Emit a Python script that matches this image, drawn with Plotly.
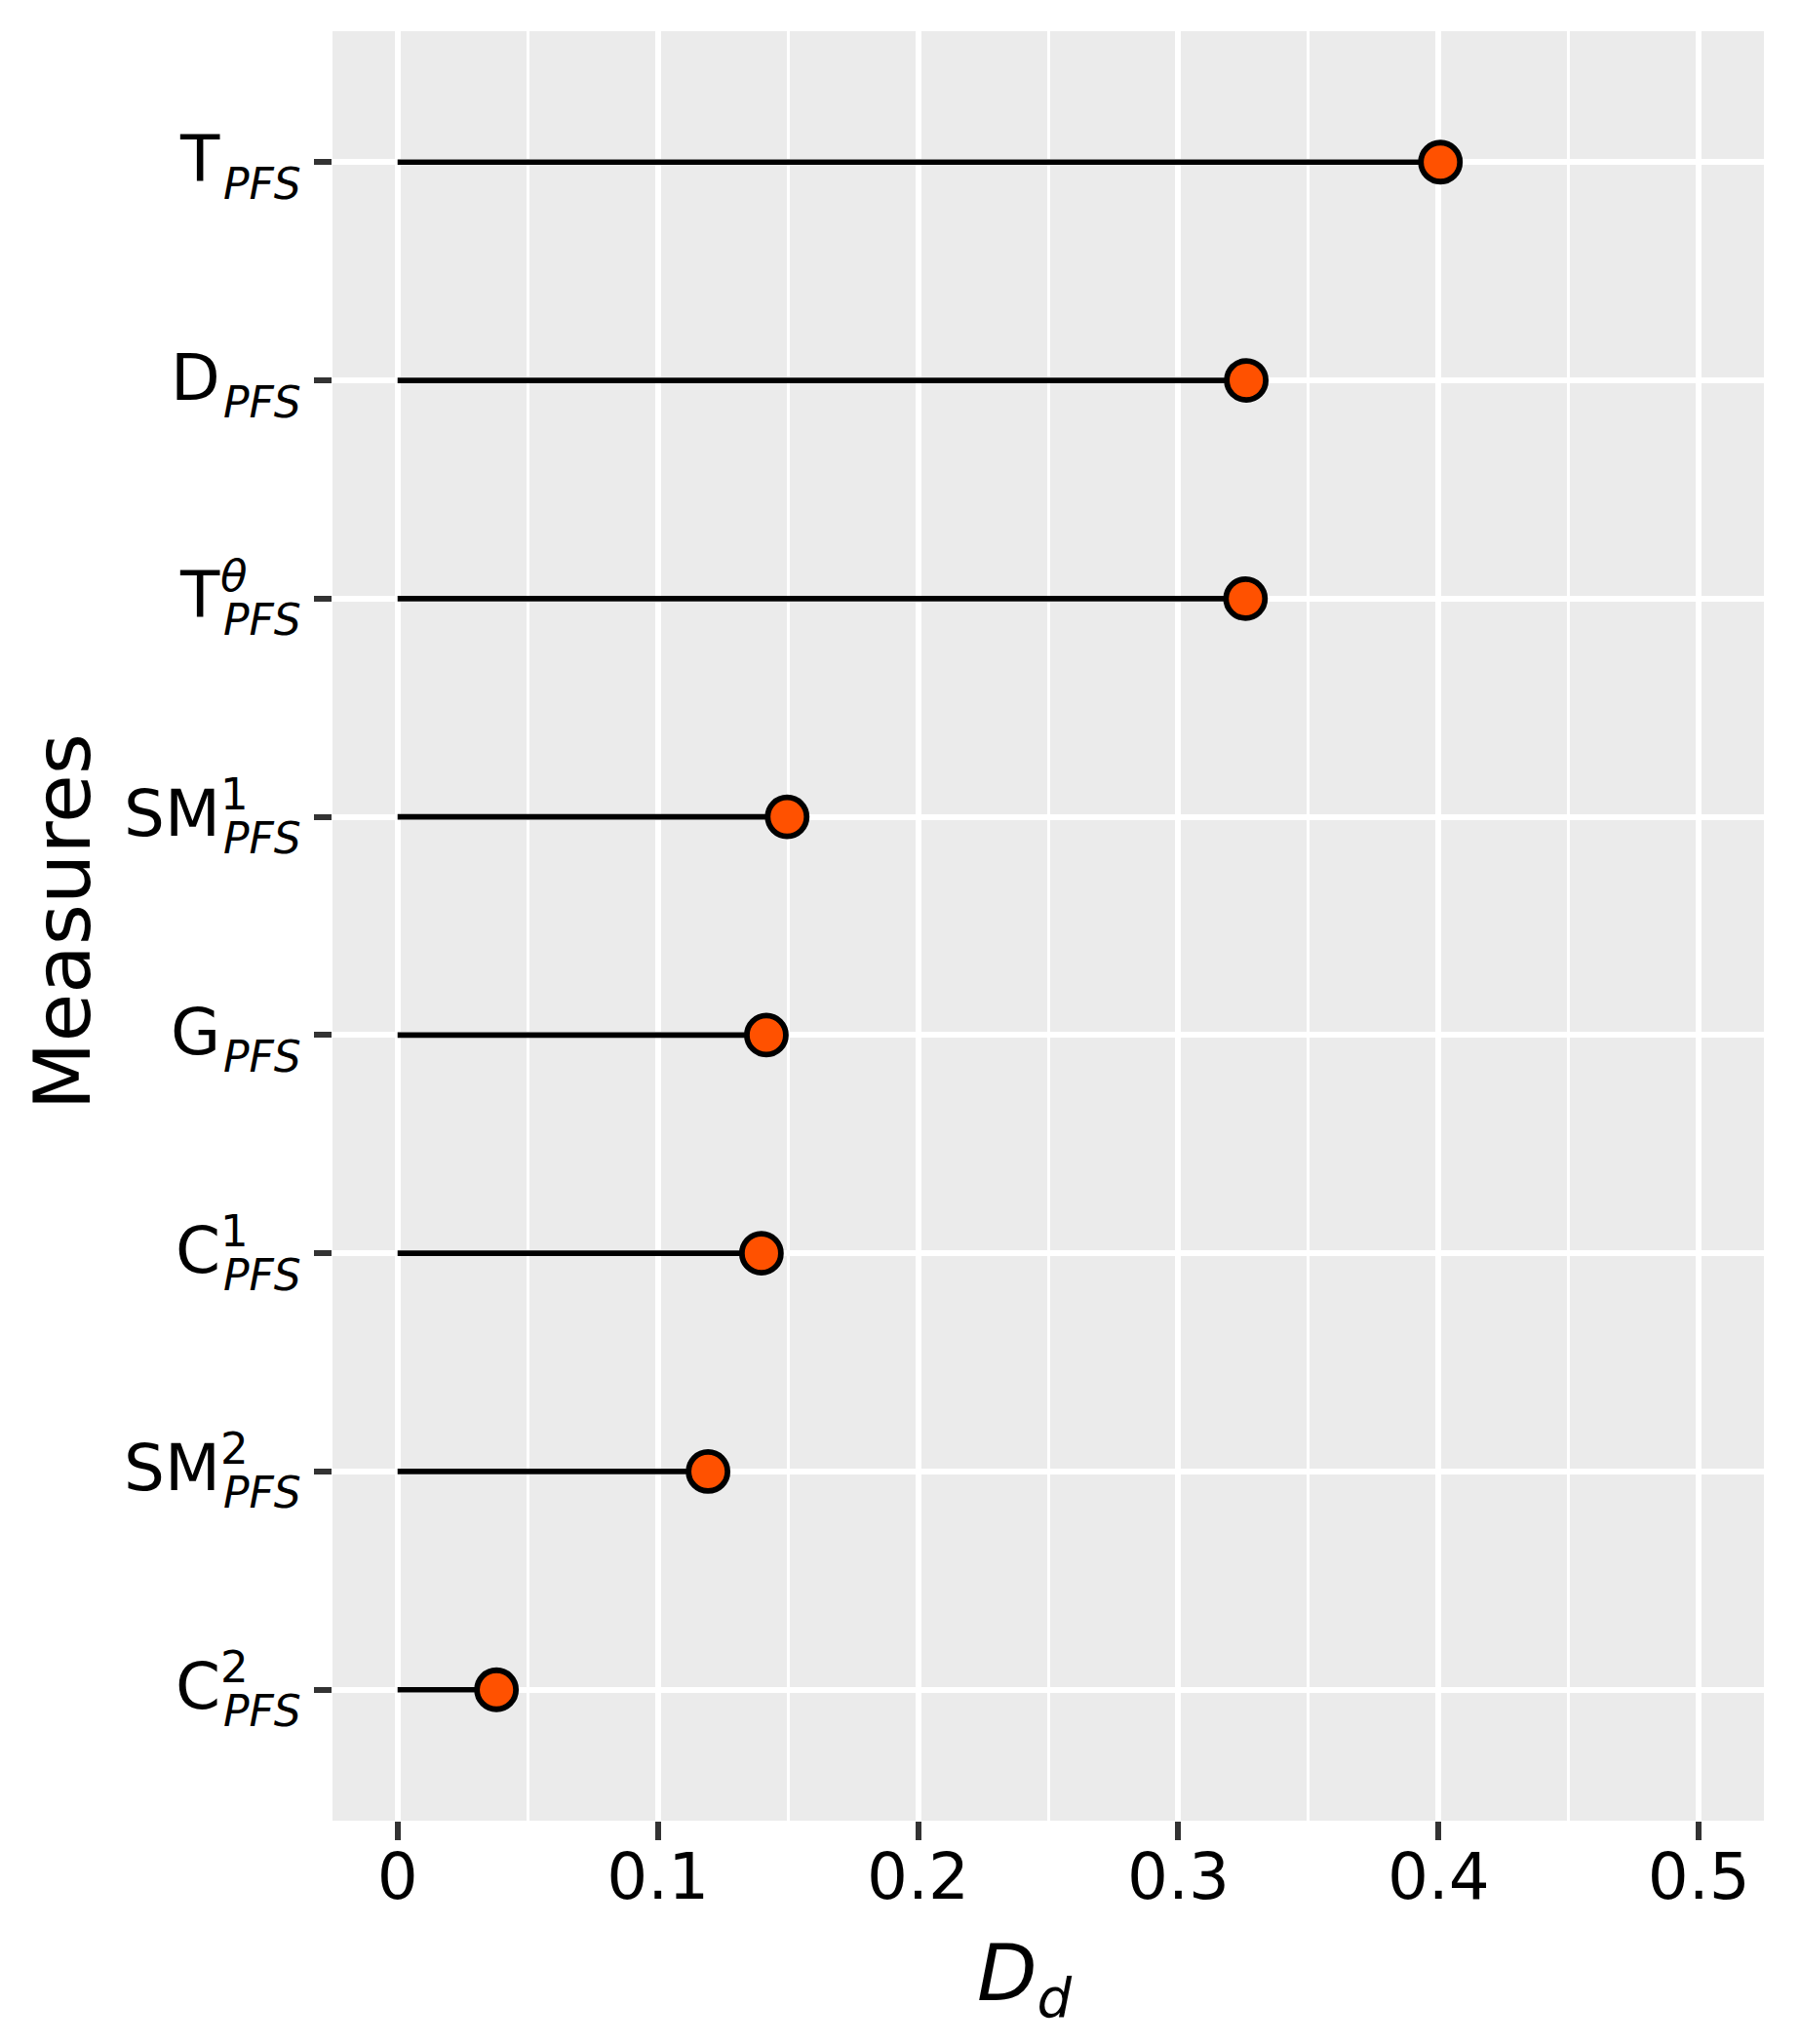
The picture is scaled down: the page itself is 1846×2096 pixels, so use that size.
import plotly.graph_objects as go

# ---- data (top to bottom as displayed) ----
measures = ["T_PFS", "D_PFS", "Ttheta_PFS", "SM1_PFS", "G_PFS", "C1_PFS", "SM2_PFS", "C2_PFS"]
label_base = ["T", "D", "T", "SM", "G", "C", "SM", "C"]
label_sup = ["", "", "<i>θ</i>", "1", "", "1", "2", "2"]
label_sub = ["PFS"] * 8
dd_values = [0.4007, 0.3261, 0.3258, 0.1497, 0.1417, 0.1398, 0.1193, 0.0380]

x_tickvals = [0, 0.1, 0.2, 0.3, 0.4, 0.5]
x_ticktext = ["0", "0.1", "0.2", "0.3", "0.4", "0.5"]

FONT = "DejaVu Sans"
OFF = 8  # page body margin offset
W, H = 1846 - OFF, 2096 - OFF
L, R, T, B = 341 - OFF, 37, 32 - OFF, 229

fig = go.Figure()

# stems
seg_x, seg_y = [], []
for m, v in zip(measures, dd_values):
    seg_x += [0, v, None]
    seg_y += [m, m, None]
fig.add_trace(go.Scatter(x=seg_x, y=seg_y, mode="lines",
                         line=dict(color="black", width=5.7),
                         hoverinfo="skip", showlegend=False))

# points
fig.add_trace(go.Scatter(x=dd_values, y=measures, mode="markers",
                         marker=dict(size=40, color="#FF5100",
                                     line=dict(color="black", width=5.8)),
                         showlegend=False))

annotations = []
for m, b, sp, sb in zip(measures, label_base, label_sup, label_sub):
    annotations.append(dict(text=b, xref="paper", x=0, xshift=-114, xanchor="right",
                            yref="y", y=m, yshift=3, yanchor="middle",
                            showarrow=False, borderpad=0,
                            font=dict(family=FONT, size=66, color="black")))
    annotations.append(dict(text="<i>" + sb + "</i>", xref="paper", x=0, xshift=-31, xanchor="right",
                            yref="y", y=m, yshift=-22, yanchor="middle",
                            showarrow=False, borderpad=0,
                            font=dict(family=FONT, size=44, color="black")))
    if sp:
        annotations.append(dict(text=sp, xref="paper", x=0, xshift=-116, xanchor="left",
                                yref="y", y=m, yshift=23, yanchor="middle",
                                showarrow=False, borderpad=0,
                                font=dict(family=FONT, size=45, color="black")))

# axis titles
annotations.append(dict(text="Measures", xref="paper", x=0, xshift=-278, xanchor="center",
                        yref="paper", y=0.5, yshift=4, yanchor="middle", textangle=-90,
                        showarrow=False, font=dict(family=FONT, size=81, color="black")))
annotations.append(dict(text="<i>D<sub>d</sub></i>", xref="paper", x=0.5, xshift=-24, xanchor="center",
                        yref="paper", y=0, yshift=-162, yanchor="middle",
                        showarrow=False, font=dict(family=FONT, size=80, color="black")))

fig.update_layout(
    width=W, height=H,
    margin=dict(l=L, r=R, t=T, b=B, autoexpand=False),
    paper_bgcolor="white", plot_bgcolor="#EBEBEB",
    font=dict(family=FONT, color="black"),
    annotations=annotations,
    showlegend=False,
)
fig.update_xaxes(
    range=[-0.025, 0.525], tickvals=x_tickvals, ticktext=x_ticktext,
    showgrid=True, gridcolor="white", gridwidth=5.5,
    minor=dict(dtick=0.05, tick0=0, showgrid=True, gridcolor="white", gridwidth=2.8, ticks=""),
    zeroline=False, showline=False,
    ticks="outside", ticklen=19, tickwidth=5.5, tickcolor="#333333",
    ticklabelstandoff=-19,
    tickfont=dict(family=FONT, size=66, color="black"),
)
fig.update_yaxes(
    type="category", categoryorder="array", categoryarray=measures[::-1],
    range=[-0.6, 7.6], tickvals=measures, showticklabels=False,
    showgrid=True, gridcolor="white", gridwidth=5.5,
    zeroline=False, showline=False,
    ticks="outside", ticklen=18, tickwidth=5.5, tickcolor="#333333",
)

fig.write_html("out.html")
